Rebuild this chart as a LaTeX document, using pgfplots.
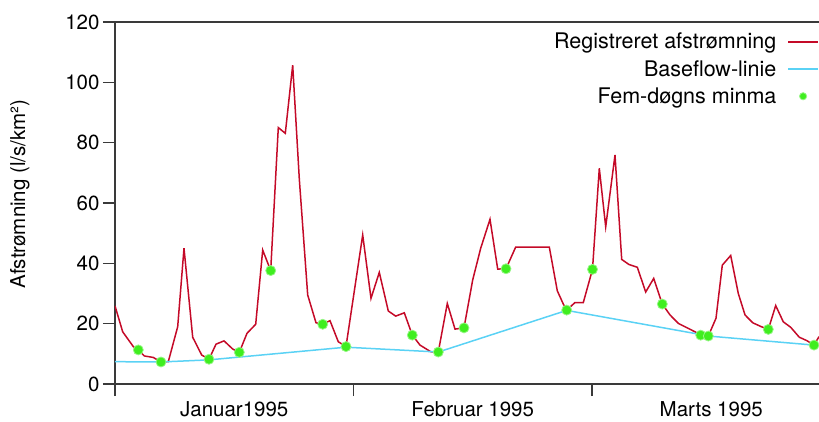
\documentclass[border=0pt]{standalone}
\usepackage{fontspec}
\setmainfont{TeX Gyre Heros}
\usepackage{pgfplots}
\pgfplotsset{compat=1.18}
\definecolor{redline}{HTML}{C40A28}
\definecolor{blueline}{HTML}{5AD2F5}
\definecolor{greendot}{HTML}{3FEE1F}
\definecolor{axisgray}{HTML}{3A3A3A}
\newcommand{\cf}{\fontsize{20.5}{24}\selectfont}
\newcommand{\lf}{\fontsize{21.5}{25}\selectfont}
\begin{document}
\begin{tikzpicture}
\begin{axis}[
  name=ax,
  at={(0,0)}, anchor=south west,
  scale only axis, width=704pt, height=362pt,
  xmin=0, xmax=704, ymin=0, ymax=120,
  axis x line*=bottom, axis y line*=left,
  axis line style={axisgray, line width=1.3pt},
  tick style={axisgray, line width=1.3pt},
  tick align=outside, major tick length=12pt,
  xtick={0,238.5,477}, xticklabels={,,},
  extra x ticks={119.25,357.75,596.25},
  extra x tick labels={Januar1995,Februar 1995,Marts 1995},
  extra x tick style={major tick length=0pt, xticklabel style={yshift=-14pt}},
  ytick={0,20,...,120},
  yticklabel style={font=\cf, /pgf/number format/assume math mode=true},
  xticklabel style={font=\cf},
  ylabel={Afstrømning (l/s/km²)},
  ylabel style={font=\cf, at={(axis description cs:-0.135,0.525)}, anchor=center},
  clip mode=individual,
  legend style={font=\lf, draw=none, fill=none, legend plot pos=right,
    legend cell align=right, at={(axis description cs:1,1)}, anchor=north east,
    yshift=-9pt, inner sep=0pt, row sep=6pt, column sep=9pt},
  legend image code/.code={\draw[mark repeat=2,mark phase=2,#1,line width=1.4pt,mark size=3.6pt] plot coordinates {(0pt,0pt) (15pt,0pt) (30pt,0pt)};},
]
\addplot[redline, line width=1.5pt, mark=none] coordinates {
(0,25.9) (7.7,17.3) (18.3,12.4) (23.3,11.3) (29.3,9.3) (38.3,8.8) (46,7.3)
(53.3,7.4) (62.7,19) (69,45) (77.7,15.5) (86.7,9.6) (94,8.2) (101,13.2)
(109,14.3) (117.7,11.6) (124.3,10.5) (132,16.8) (140.7,19.8) (147.7,44.4)
(155.7,37.6) (163.3,85) (170.3,83.1) (177.7,105.7) (184.3,68) (192.7,29.5)
(201,20.3) (207.7,19.8) (215,21) (223.3,14) (231,12.4) (247.7,49.4)
(256,28.4) (264.3,37) (273.3,24.2) (280.7,22.5) (289.3,23.6) (297.3,16.2)
(305,12.9) (315.7,10.7) (323.3,10.6) (332.3,26.7) (340,18.2) (349,18.6)
(357.7,34.5) (365.7,45) (375,54.6) (382.7,38.1) (391,38.2) (400.7,45.4)
(434.3,45.4) (442.3,30.9) (448.3,26.5) (451.7,24.5) (460,27) (468.3,27)
(477.5,38) (484.3,71.5) (490.7,52.1) (500,75.9) (506.7,41.3) (514,39.6)
(522.3,38.7) (530.7,30.5) (538.7,35) (547.3,26.5) (555,22.9) (563.3,20.1)
(571.7,18.7) (580,17.3) (585.7,16.2) (593.3,15.9) (601,21.8) (607.3,39.4)
(615.7,42.6) (623.3,30) (630,22.9) (637.7,20.3) (646.3,19) (653.3,18.1)
(660.7,26) (668.3,20.6) (675.7,18.8) (684.3,15.5) (691.7,14.4) (699,12.9)
(704,15.7)
};
\addlegendentry{Registreret afstrømning}
\addplot[blueline, line width=1.5pt, mark=none] coordinates {
(0,7.4) (46,7.3) (94,8.0) (231,12.2) (323.3,10.6) (451.7,24.4)
(585.7,16.4) (593.3,15.9) (699,12.9) (704,12.7)
};
\addlegendentry{Baseflow-linie}
\addplot[only marks, mark=*, mark size=5pt, color=greendot,
  mark options={draw=greendot!55!white, line width=0.8pt, fill=greendot}] coordinates {
(23.3,11.3) (46,7.3) (94,8.2) (124.3,10.5) (155.7,37.6) (207.7,19.8)
(231,12.4) (297.3,16.2) (323.3,10.6) (349,18.6) (391,38.2) (451.7,24.5)
(477.5,38) (547.3,26.5) (585.7,16.2) (593.3,15.9) (653.3,18.1) (699,12.9)
};
\addlegendentry{Fem-døgns minma}
\end{axis}
\draw[axisgray, line width=1.3pt] (ax.north west) -- (ax.north east);
\pgfresetboundingbox
\useasboundingbox (-115pt,-37pt) rectangle (704pt,384pt);
\end{tikzpicture}
\end{document}
